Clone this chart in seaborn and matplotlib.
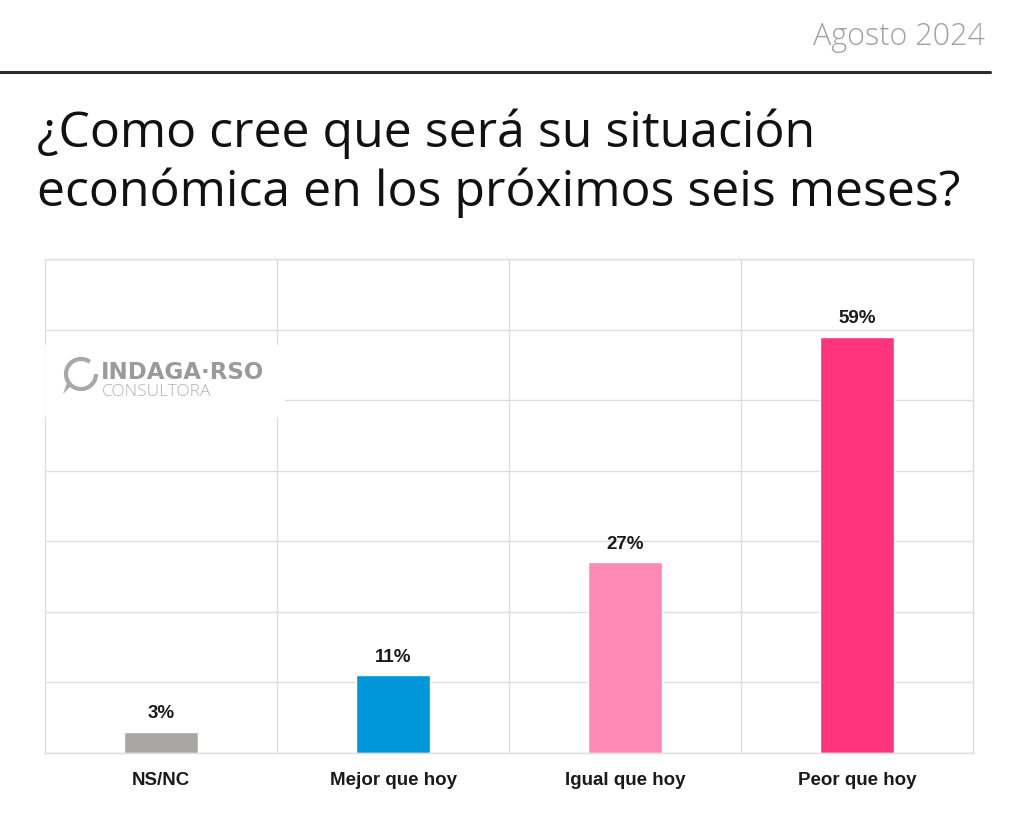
import matplotlib
matplotlib.use("Agg")
import matplotlib.pyplot as plt
import seaborn as sns
import pandas as pd
from matplotlib.patches import Rectangle, Arc, Polygon

categories = ["NS/NC", "Mejor que hoy", "Igual que hoy", "Peor que hoy"]
values = [3, 11, 27, 59]
colors = ["#aaa6a6", "#0096da", "#ff89b3", "#ff347b"]
value_labels = ["3%", "11%", "27%", "59%"]
title = "¿Como cree que será su situación\neconómica en los próximos seis meses?"
date_text = "Agosto 2024"

sns.set_theme(style="white")
plt.rcParams['font.family'] = ['Liberation Sans', 'DejaVu Sans']

df = pd.DataFrame({"cat": categories, "val": values})

fig = plt.figure(figsize=(10.24, 8.13), dpi=100)
ax = fig.add_axes([45/1024, 60/813, 928/1024, 494/813])

sns.barplot(data=df, x="cat", y="val", hue="cat", palette=colors,
            width=0.32, legend=False, ax=ax, saturation=1, order=categories)

ax.set_ylim(0, 70)
ax.set_xlim(-0.5, 3.5)
ax.set_yticks(range(0, 71, 10))
ax.yaxis.grid(True, color="#dedede", linewidth=1)
ax.set_axisbelow(True)
for xv in [0.5, 1.5, 2.5]:
    ax.axvline(xv, color="#dedede", linewidth=1, zorder=0)
for s in ax.spines.values():
    s.set_color("#dedede")
    s.set_linewidth(1)
ax.tick_params(axis="y", left=False, labelleft=False)
ax.tick_params(axis="x", bottom=False, pad=8)
ax.set_xlabel("")
ax.set_ylabel("")
for lbl in ax.get_xticklabels():
    lbl.set_fontweight("bold")
    lbl.set_fontsize(13.5)
    lbl.set_color("#1a1a1a")

for i, (v, t) in enumerate(zip(values, value_labels)):
    ax.annotate(t, (i, v), xytext=(0, 7), textcoords="offset points",
                ha="center", va="bottom", fontsize=13.5, fontweight="bold",
                color="#1a1a1a")

# logo watermark
fig.patches.append(Rectangle((45/1024, 1-417/813), 240/1024, 72/813,
                             transform=fig.transFigure, facecolor="white",
                             edgecolor="none", zorder=5))
fig.text(101/1024, 1-372/813, "INDAGA·RSO", fontsize=16.5, fontweight="bold",
         color="#9a9a9a", va="center", ha="left", zorder=6,
         family=["DejaVu Sans"])
fig.text(102/1024, 1-392/813, "CONSULTORA", fontsize=12.5, fontweight="light",
         color="#b0b0b0", va="center", ha="left", zorder=6,
         family=["Open Sans", "DejaVu Sans"])
fig.patches.append(Arc((81/1024, 1-374/813), 30/1024, 30/813, theta1=60,
                       theta2=360, transform=fig.transFigure,
                       color="#a8a8a8", linewidth=3, zorder=6))
fig.patches.append(Polygon([(63/1024, 1-394/813), (72/1024, 1-385/813),
                            (67/1024, 1-383/813)], closed=True,
                           transform=fig.transFigure, facecolor="#a8a8a8",
                           edgecolor="none", zorder=6))

# header
fig.text(985/1024, 1-37/813, date_text, fontsize=22, color="#a0a0a8",
         ha="right", va="center", family=["Open Sans", "DejaVu Sans"],
         fontweight="light")
fig.add_artist(plt.Line2D([0, 990/1024], [1-72/813, 1-72/813],
                          transform=fig.transFigure, color="#2b2b2b",
                          linewidth=2.2))
fig.text(37/1024, 1-163/813, title, fontsize=36, color="#111111",
         ha="left", va="center", linespacing=1.22,
         family=["Open Sans", "DejaVu Sans"])

fig.savefig("out.png", dpi=100, facecolor="white")
